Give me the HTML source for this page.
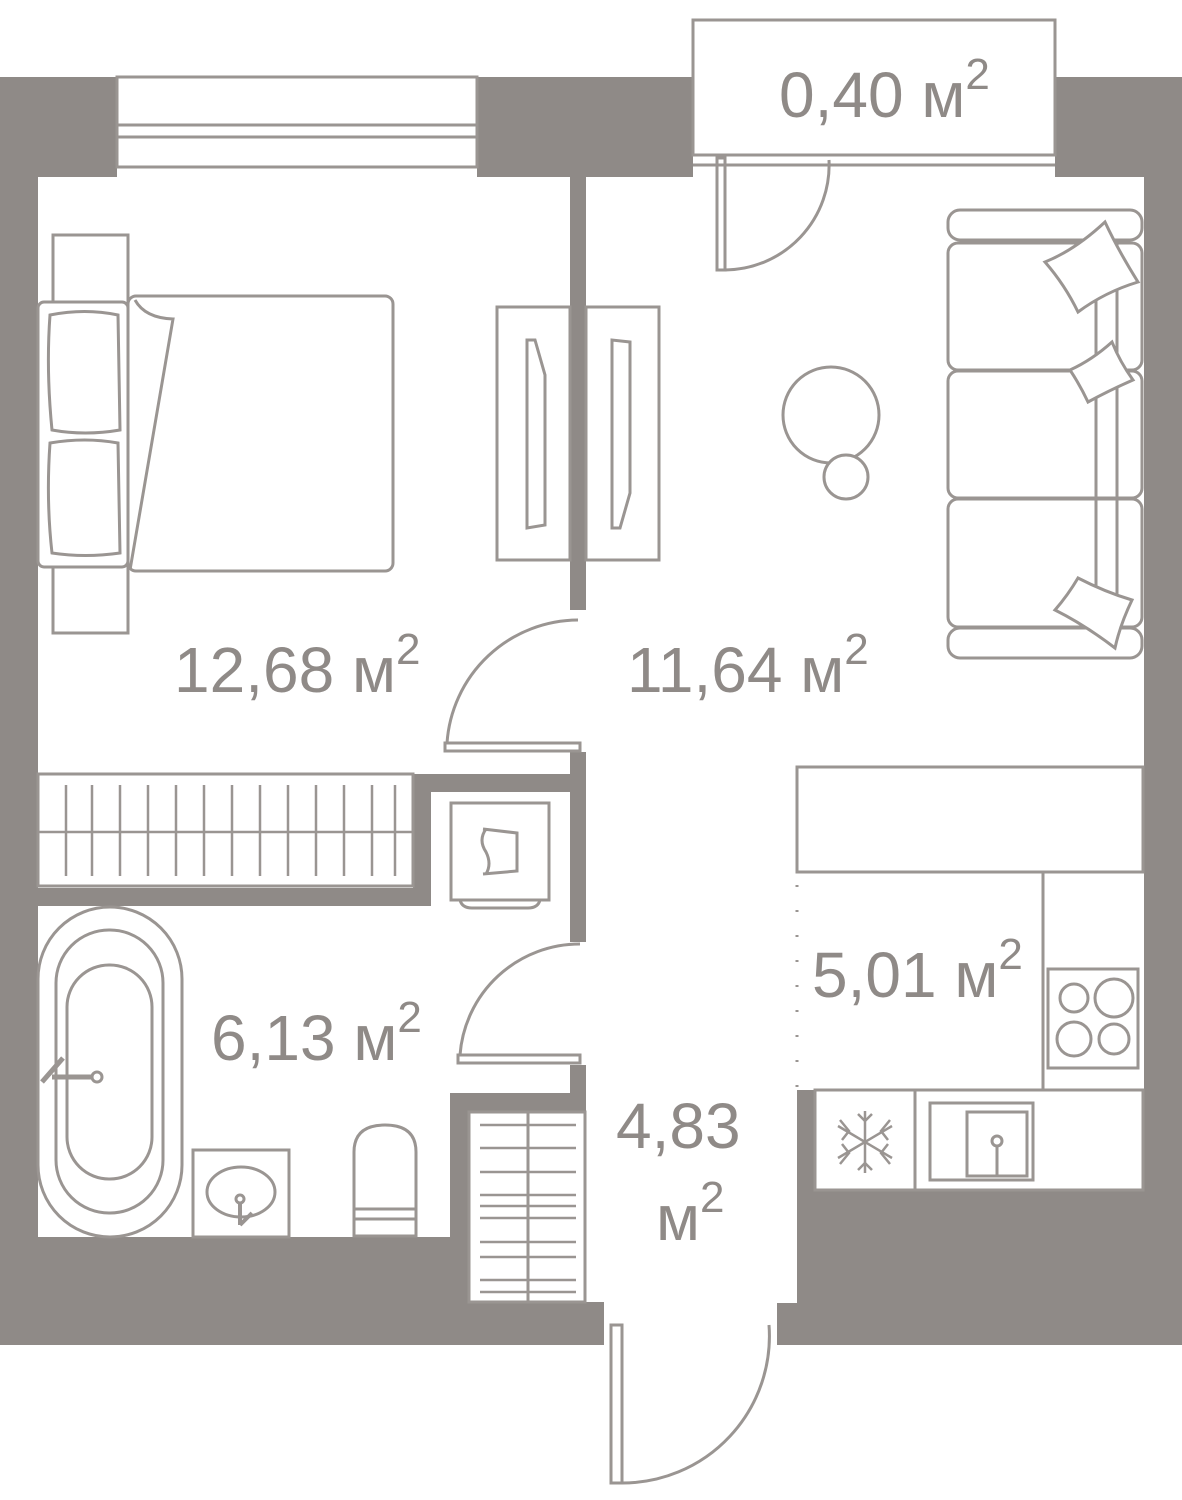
<!DOCTYPE html>
<html><head><meta charset="utf-8"><style>
html,body{margin:0;padding:0;background:#fff;}
svg{display:block;}
text{font-family:"Liberation Sans",sans-serif;fill:#8f8a87;}
</style></head><body>
<svg width="1182" height="1500" viewBox="0 0 1182 1500" xmlns="http://www.w3.org/2000/svg">
<g fill="#8f8a87">
  <rect x="0" y="77" width="117" height="100"/>
  <rect x="0" y="77" width="38" height="1268"/>
  <rect x="477" y="77" width="216" height="100"/>
  <rect x="570" y="177" width="16" height="433"/>
  <rect x="1055" y="77" width="127" height="100"/>
  <rect x="1144" y="77" width="38" height="1268"/>
  <rect x="413" y="774" width="172" height="18"/>
  <rect x="413" y="774" width="18" height="132"/>
  <rect x="38" y="888" width="393" height="18"/>
  <rect x="570" y="752" width="16" height="190"/>
  <rect x="570" y="1065" width="16" height="47"/>
  <rect x="450" y="1093" width="136" height="19"/>
  <rect x="450" y="1093" width="19" height="210"/>
  <rect x="0" y="1237" width="469" height="108"/>
  <rect x="0" y="1302" width="604" height="43"/>
  <rect x="797" y="1090" width="18" height="110"/>
  <rect x="797" y="1190" width="385" height="155"/>
  <rect x="777" y="1303" width="30" height="42"/>
</g>
<g fill="none" stroke="#9a9592" stroke-width="3">
  <rect x="117" y="77" width="360" height="90"/>
  <line x1="117" y1="125" x2="477" y2="125"/>
  <line x1="117" y1="137" x2="477" y2="137"/>
  <rect x="693" y="20" width="362" height="135"/>
  <line x1="693" y1="165" x2="1055" y2="165"/>
  <rect x="717" y="158" width="8" height="112"/>
  <path d="M725 270 A105 105 0 0 0 829 160"/>
  <rect x="53" y="235" width="75" height="398"/>
  <rect x="38" y="302" width="90" height="265" rx="6" fill="#fff"/>
  <rect x="128" y="296" width="265" height="275" rx="8" fill="#fff"/>
  <path d="M50 315 Q85 308 118 315 L120 430 Q85 436 52 430 Q46 370 50 315Z"/>
  <path d="M50 443 Q85 437 118 443 L120 553 Q85 558 52 553 Q46 500 50 443Z"/>
  <path d="M135 300 Q145 318 173 319 L130 570"/>
  <rect x="497" y="307" width="73" height="253"/>
  <rect x="586" y="307" width="73" height="253"/>
  <path d="M527 340 L535 340 L545 375 L545 525 L527 528Z"/>
  <path d="M612 528 L620 528 L630 493 L630 342 L612 340Z"/>
  <rect x="445" y="743" width="135" height="8"/>
  <path d="M447 743 A132 132 0 0 1 578 620"/>
  <circle cx="831" cy="415" r="48"/>
  <circle cx="846" cy="477" r="22" fill="#fff"/>
  <rect x="948" y="210" width="194" height="30" rx="12"/>
  <rect x="948" y="243" width="194" height="127" rx="10"/>
  <rect x="948" y="371" width="194" height="127" rx="10"/>
  <rect x="948" y="499" width="194" height="128" rx="10"/>
  <rect x="948" y="628" width="194" height="30" rx="12"/>
  <line x1="1096" y1="240" x2="1096" y2="628"/>
  <line x1="1117" y1="240" x2="1117" y2="628"/>
  <path d="M1045 262 Q1075 250 1105 222 Q1118 250 1138 282 Q1105 292 1078 312 Q1065 285 1045 262Z" fill="#fff"/>
  <path d="M1070 370 Q1092 360 1112 342 Q1120 362 1133 380 Q1110 390 1088 402 Q1080 385 1070 370Z" fill="#fff"/>
  <path d="M1055 610 Q1068 595 1078 578 Q1105 592 1132 600 Q1120 625 1115 648 Q1085 625 1055 610Z" fill="#fff"/>
  <rect x="797" y="767" width="346" height="105"/>
  <polyline points="1043,872 1043,1090 815,1090"/>
  <rect x="1048" y="969" width="90" height="99"/>
  <circle cx="1074" cy="998" r="14"/><circle cx="1114" cy="998" r="19"/>
  <circle cx="1074" cy="1039" r="17"/><circle cx="1114" cy="1039" r="15"/>
  <line x1="797" y1="885" x2="797" y2="1090" stroke-dasharray="2 23"/>
  <rect x="815" y="1090" width="100" height="100"/>
  <rect x="915" y="1090" width="228" height="100"/>
  <rect x="930" y="1103" width="103" height="77"/>
  <rect x="967" y="1112" width="60" height="64"/>
  <circle cx="997" cy="1141" r="5"/>
  <line x1="997" y1="1146" x2="997" y2="1175"/>
  <g stroke-width="2.5">
  <line x1="865" y1="1111" x2="865" y2="1173"/>
  <line x1="838" y1="1126" x2="892" y2="1158"/>
  <line x1="838" y1="1158" x2="892" y2="1126"/>
  <polyline points="858,1114 865,1121 872,1114"/>
  <polyline points="858,1170 865,1163 872,1170"/>
  <polyline points="840,1120 849,1131 842,1140"/>
  <polyline points="890,1120 881,1131 888,1140"/>
  <polyline points="840,1164 849,1153 842,1144"/>
  <polyline points="890,1164 881,1153 888,1144"/>
  </g>
  <rect x="451" y="803" width="98" height="97"/>
  <path d="M460 900 Q462 908 472 908 L528 908 Q538 908 540 900"/>
  <path d="M483 829 L517 833 L517 871 L483 874 M486 829 Q478 840 486 852 Q492 864 486 874"/>
  <rect x="38" y="774" width="375" height="112"/>
  <g stroke-width="2.5">
  <line x1="66" y1="785" x2="66" y2="876"/><line x1="92" y1="785" x2="92" y2="876"/>
  <line x1="120" y1="785" x2="120" y2="876"/><line x1="148" y1="785" x2="148" y2="876"/>
  <line x1="176" y1="785" x2="176" y2="876"/><line x1="204" y1="785" x2="204" y2="876"/>
  <line x1="232" y1="785" x2="232" y2="876"/><line x1="260" y1="785" x2="260" y2="876"/>
  <line x1="288" y1="785" x2="288" y2="876"/><line x1="316" y1="785" x2="316" y2="876"/>
  <line x1="344" y1="785" x2="344" y2="876"/><line x1="372" y1="785" x2="372" y2="876"/>
  <line x1="395" y1="785" x2="395" y2="876"/>
  <line x1="38" y1="832" x2="413" y2="832"/>
  </g>
  <rect x="458" y="1055" width="122" height="8"/>
  <path d="M460 1055 A120 120 0 0 1 580 944"/>
  <rect x="38" y="907" width="144" height="330" rx="72"/>
  <rect x="56" y="930" width="107" height="283" rx="53"/>
  <rect x="67" y="965" width="85" height="214" rx="42"/>
  <line x1="52" y1="1077" x2="92" y2="1077" stroke-width="5"/>
  <circle cx="97" cy="1077" r="5"/>
  <line x1="42" y1="1082" x2="63" y2="1058" stroke-width="5"/>
  <rect x="193" y="1150" width="96" height="87"/>
  <ellipse cx="241" cy="1192" rx="34" ry="25"/>
  <circle cx="240" cy="1199" r="4"/>
  <line x1="240" y1="1203" x2="240" y2="1225" stroke-width="4"/><line x1="240" y1="1225" x2="252" y2="1213" stroke-width="4"/>
  <path d="M354 1236 L354 1152 Q354 1125 385 1125 Q416 1125 416 1152 L416 1236Z"/>
  <line x1="354" y1="1209" x2="416" y2="1209"/><line x1="354" y1="1219" x2="416" y2="1219"/>
  <rect x="469" y="1112" width="116" height="190"/>
  <line x1="528" y1="1112" x2="528" y2="1302"/>
  <g stroke-width="2.5">
  <line x1="480" y1="1125" x2="576" y2="1125"/><line x1="480" y1="1148" x2="576" y2="1148"/>
  <line x1="480" y1="1172" x2="576" y2="1172"/><line x1="480" y1="1195" x2="576" y2="1195"/>
  <line x1="480" y1="1206" x2="576" y2="1206"/><line x1="480" y1="1218" x2="576" y2="1218"/>
  <line x1="480" y1="1242" x2="576" y2="1242"/><line x1="480" y1="1257" x2="576" y2="1257"/>
  <line x1="480" y1="1280" x2="576" y2="1280"/><line x1="480" y1="1292" x2="576" y2="1292"/>
  </g>
  <rect x="611" y="1325" width="11" height="158"/>
  <path d="M622 1483 A147 147 0 0 0 769 1325"/>
</g>
<g font-size="64">
  <text x="174" y="692">12,68 м<tspan font-size="44" dy="-28">2</tspan></text>
  <text x="627" y="692">11,64 м<tspan font-size="44" dy="-28">2</tspan></text>
  <text x="211" y="1060">6,13 м<tspan font-size="44" dy="-28">2</tspan></text>
  <text x="812" y="997">5,01 м<tspan font-size="44" dy="-28">2</tspan></text>
  <text x="616" y="1148">4,83</text>
  <text x="656" y="1240">м<tspan font-size="44" dy="-28">2</tspan></text>
  <text x="779" y="117">0,40 м<tspan font-size="44" dy="-28">2</tspan></text>
</g>
</svg>
</body></html>
